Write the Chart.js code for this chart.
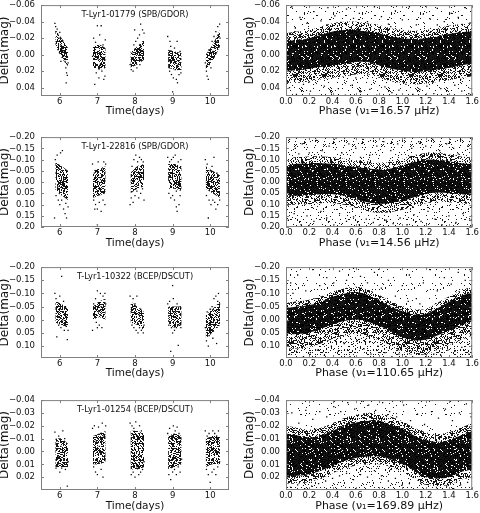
<!DOCTYPE html>
<html lang="en">
<head>
<meta charset="UTF-8">
<title>T-Lyr1 light curves</title>
<script src="https://cdn.jsdelivr.net/npm/chart.js"></script>
<style>
  html, body { margin: 0; padding: 0; background: #fff; overflow: hidden; }
  #wrap { position: relative; width: 480px; height: 513px; overflow: hidden; }
  .cell { position: absolute; width: 240px; height: 130px; }
</style>
</head>
<body>
<div id="wrap"></div>
<script>
// ---- axis ticks ----
const timeTicks = [6, 7, 8, 9, 10];
const phaseTicks = [0, 0.2, 0.4, 0.6, 0.8, 1.0, 1.2, 1.4, 1.6];
const yTicksA = [-0.06, -0.04, -0.02, 0.00, 0.02, 0.04];
const yTicksB = [-0.20, -0.15, -0.10, -0.05, 0.00, 0.05, 0.10, 0.15, 0.20];
const yTicksC = [-0.20, -0.15, -0.10, -0.05, 0.00, 0.05, 0.10];
const yTicksD = [-0.04, -0.03, -0.02, -0.01, 0.00, 0.01, 0.02];

// ---- light curves vs time: dense core of each night [day, top, bottom] + single points ----
const lc01779Core = [
  [[5.88, -0.030, -0.012], [6.05, -0.020, 0.004], [6.22, -0.008, 0.014]],
  [[6.88, -0.010, 0.016], [7.05, -0.012, 0.018], [7.22, -0.008, 0.016]],
  [[7.88, -0.004, 0.016], [8.06, -0.010, 0.012], [8.24, -0.018, 0.006]],
  [[8.88, -0.006, 0.016], [9.06, -0.004, 0.018], [9.24, -0.002, 0.020]],
  [[9.88, 0.000, 0.018], [10.06, -0.012, 0.008], [10.26, -0.030, -0.010]]
];
const lc01779Dots = [
  [5.87,-0.038],[5.89,-0.034],[5.9,-0.028],[5.93,-0.031],[5.95,-0.024],[5.98,-0.02],[6.0,-0.027],[6.02,-0.012],[6.05,-0.006],[6.08,-0.016],[6.1,0.002],[6.12,-0.004],[6.14,0.008],[6.16,0.016],[6.18,0.022],[6.2,0.025],[6.17,0.034],[6.22,0.01],[5.96,-0.006],[6.03,0.008],
  [6.87,0.002],[6.9,-0.02],[6.92,0.01],[6.95,-0.015],[6.97,0.022],[7.0,-0.035],[7.02,0.005],[7.04,0.028],[7.06,-0.024],[7.08,0.012],[7.1,-0.035],[7.12,0.02],[7.15,-0.012],[7.17,0.03],[7.19,0.004],[7.21,-0.018],[6.93,0.036],[7.2,0.026],
  [7.87,0.012],[7.9,0.018],[7.92,-0.002],[7.95,0.02],[7.97,-0.012],[8.0,0.008],[8.02,-0.016],[8.05,0.016],[8.07,-0.02],[8.1,0.004],[8.12,-0.024],[8.15,-0.037],[8.17,-0.01],[8.2,-0.03],[8.22,-0.004],[8.24,-0.026],[7.99,-0.03],[8.13,0.012],
  [8.87,-0.022],[8.9,0.008],[8.92,0.02],[8.95,-0.01],[8.97,0.024],[9.0,0.004],[9.02,0.028],[9.05,-0.008],[9.07,0.018],[9.1,0.03],[9.12,-0.016],[9.15,0.012],[9.17,0.024],[9.2,-0.004],[9.22,0.022],[9.0,0.045],[9.13,0.034],[8.93,-0.016],
  [9.87,0.01],[9.9,0.02],[9.92,0.026],[9.95,0.03],[9.97,-0.006],[10.0,0.006],[10.02,0.016],[10.05,-0.016],[10.07,-0.004],[10.1,-0.022],[10.12,-0.008],[10.15,-0.028],[10.18,-0.016],[10.2,-0.034],[10.22,-0.024],[10.25,-0.037],[10.26,-0.02],[9.93,0.012]
];

const lc22816Core = [
  [[5.88, -0.09, 0.04], [6.05, -0.07, 0.06], [6.22, -0.05, 0.08]],
  [[6.88, -0.05, 0.07], [7.05, -0.06, 0.06], [7.22, -0.07, 0.05]],
  [[7.88, -0.04, 0.05], [8.06, -0.07, 0.03], [8.24, -0.08, 0.02]],
  [[8.88, -0.08, 0.03], [9.06, -0.08, 0.03], [9.24, -0.07, 0.04]],
  [[9.88, -0.07, 0.03], [10.06, -0.05, 0.05], [10.26, -0.03, 0.07]]
];
const lc22816Dots = [
  [5.86,0.16],[5.88,-0.1],[5.9,0.06],[5.93,-0.12],[5.95,0.02],[5.98,-0.06],[6.0,0.1],[6.02,-0.13],[6.05,0.08],[6.07,-0.14],[6.1,0.12],[6.12,-0.02],[6.14,0.14],[6.16,0.095],[6.18,0.16],[6.2,0.02],[6.22,0.11],[5.96,0.08],
  [6.87,-0.08],[6.9,0.08],[6.92,-0.04],[6.95,0.1],[6.97,0.02],[7.0,0.12],[7.02,-0.09],[7.05,0.09],[7.07,-0.02],[7.1,0.13],[7.12,-0.06],[7.15,0.08],[7.17,-0.09],[7.2,0.1],[7.22,-0.08],[7.0,0.19],[6.93,0.12],
  [7.87,0.1],[7.9,0.07],[7.92,-0.07],[7.95,0.09],[7.97,-0.1],[8.0,0.06],[8.02,-0.12],[8.05,0.04],[8.07,-0.09],[8.1,0.07],[8.12,-0.11],[8.15,0.05],[8.17,-0.1],[8.2,0.03],[8.22,-0.09],[8.24,0.08],
  [8.87,-0.11],[8.9,0.05],[8.92,-0.09],[8.95,0.07],[8.97,-0.1],[9.0,0.06],[9.02,-0.11],[9.05,0.08],[9.07,-0.12],[9.1,0.04],[9.12,0.13],[9.15,-0.09],[9.17,0.1],[9.2,0.06],[9.22,-0.1],[9.1,0.11],
  [9.87,-0.1],[9.9,0.06],[9.92,-0.08],[9.95,0.16],[9.97,0.08],[10.0,-0.05],[10.02,0.1],[10.05,-0.07],[10.07,0.08],[10.1,-0.11],[10.12,0.09],[10.15,0.12],[10.18,-0.04],[10.2,0.1],[10.22,0.06],[10.25,0.08]
];

const lc10322Core = [
  [[5.88, -0.07, 0.01], [6.05, -0.06, 0.02], [6.22, -0.04, 0.03]],
  [[6.88, -0.05, 0.00], [7.05, -0.07, -0.01], [7.22, -0.08, 0.00]],
  [[7.88, -0.07, 0.01], [8.06, -0.05, 0.02], [8.24, -0.03, 0.04]],
  [[8.88, -0.05, 0.02], [9.06, -0.05, 0.03], [9.24, -0.05, 0.02]],
  [[9.88, -0.02, 0.07], [10.06, -0.04, 0.05], [10.26, -0.07, 0.02]]
];
const lc10322Dots = [
  [5.87,-0.1],[5.9,-0.08],[5.92,0.065],[5.95,-0.03],[5.97,0.02],[6.0,-0.09],[6.03,0.03],[6.05,-0.165],[6.08,0.0],[6.1,-0.07],[6.12,0.04],[6.15,-0.05],[6.17,0.025],[6.2,0.075],[6.22,0.04],[6.0,-0.04],
  [6.87,0.04],[6.9,-0.06],[6.92,-0.02],[6.95,-0.08],[6.97,0.01],[7.0,-0.11],[7.03,-0.03],[7.05,0.02],[7.08,-0.1],[7.1,-0.05],[7.12,0.03],[7.15,-0.09],[7.17,-0.02],[7.2,-0.1],[7.22,-0.06],[7.0,0.03],
  [7.87,-0.09],[7.9,-0.03],[7.92,0.02],[7.95,-0.08],[7.97,0.03],[8.0,-0.06],[8.03,0.04],[8.05,-0.09],[8.08,0.05],[8.1,-0.02],[8.12,0.03],[8.15,-0.04],[8.17,0.04],[8.2,0.0],[8.22,0.05],[8.24,0.02],
  [8.87,-0.06],[8.9,0.02],[8.92,-0.07],[8.95,0.12],[8.97,0.03],[9.0,-0.13],[9.02,-0.08],[9.05,0.04],[9.07,-0.03],[9.1,0.03],[9.12,-0.06],[9.15,0.097],[9.17,0.02],[9.2,-0.05],[9.22,0.03],[9.0,0.05],
  [9.87,0.03],[9.9,0.08],[9.92,-0.03],[9.95,0.1],[9.97,0.06],[10.0,-0.04],[10.02,0.05],[10.05,-0.05],[10.07,0.07],[10.1,-0.08],[10.12,0.02],[10.15,-0.09],[10.17,0.09],[10.2,-0.07],[10.22,-0.1],[10.25,-0.06]
];

const lc01254Core = [
  [[5.88, -0.010, 0.012], [6.05, -0.010, 0.012], [6.22, -0.006, 0.012]],
  [[6.88, -0.012, 0.010], [7.05, -0.014, 0.010], [7.22, -0.016, 0.008]],
  [[7.88, -0.016, 0.014], [8.06, -0.016, 0.014], [8.24, -0.014, 0.012]],
  [[8.88, -0.012, 0.014], [9.06, -0.014, 0.012], [9.24, -0.012, 0.010]],
  [[9.88, -0.010, 0.012], [10.06, -0.012, 0.010], [10.26, -0.012, 0.010]]
];
const lc01254Dots = [
  [5.87,-0.015],[5.9,0.013],[5.92,-0.008],[5.95,0.01],[5.97,-0.012],[6.0,0.016],[6.03,-0.004],[6.05,0.013],[6.08,-0.016],[6.1,0.006],[6.13,-0.01],[6.15,0.014],[6.17,-0.003],[6.2,0.027],[6.22,0.008],[5.98,0.004],
  [6.87,-0.018],[6.9,0.012],[6.92,-0.02],[6.95,0.016],[6.97,-0.008],[7.0,0.018],[7.03,-0.019],[7.05,0.008],[7.08,-0.014],[7.1,0.014],[7.13,-0.022],[7.15,0.02],[7.17,-0.012],[7.2,0.006],[7.22,-0.02],[7.05,-0.004],
  [7.87,-0.022],[7.9,0.018],[7.92,-0.02],[7.95,0.016],[7.97,-0.018],[8.0,0.02],[8.02,-0.023],[8.05,0.012],[8.07,-0.01],[8.1,0.018],[8.12,-0.02],[8.15,0.016],[8.17,-0.016],[8.2,0.014],[8.22,-0.012],[8.24,0.008],
  [8.87,-0.014],[8.9,0.018],[8.92,-0.018],[8.95,0.022],[8.97,-0.012],[9.0,0.016],[9.02,-0.02],[9.05,0.014],[9.07,-0.016],[9.1,0.018],[9.12,-0.019],[9.15,0.012],[9.17,-0.014],[9.2,0.016],[9.22,-0.01],[9.24,0.006],
  [9.87,-0.016],[9.9,0.014],[9.92,-0.012],[9.95,0.018],[9.97,-0.014],[10.0,0.024],[10.02,-0.01],[10.05,0.016],[10.07,-0.016],[10.1,0.014],[10.12,-0.014],[10.15,0.018],[10.17,-0.012],[10.2,0.012],[10.22,-0.016],[10.25,0.008]
];

// ---- phase-folded curves: dense core and lighter halo edges on a phase grid + sparse points ----
const phaseGrid = [0.0, 0.1, 0.2, 0.3, 0.4, 0.5, 0.6, 0.7, 0.8, 0.9, 1.0, 1.1, 1.2, 1.3, 1.4, 1.5, 1.6];

const ph1657CoreTop = [-0.016,-0.018,-0.020,-0.024,-0.028,-0.030,-0.030,-0.028,-0.026,-0.022,-0.020,-0.019,-0.020,-0.022,-0.025,-0.027,-0.028];
const ph1657CoreBot = [0.019,0.019,0.017,0.015,0.013,0.011,0.009,0.009,0.013,0.017,0.019,0.021,0.020,0.018,0.016,0.013,0.011];
const ph1657HaloTop = [-0.026,-0.028,-0.030,-0.034,-0.038,-0.040,-0.040,-0.038,-0.036,-0.032,-0.030,-0.029,-0.030,-0.032,-0.035,-0.037,-0.038];
const ph1657HaloBot = [0.034,0.034,0.032,0.030,0.028,0.026,0.024,0.024,0.028,0.032,0.034,0.036,0.035,0.033,0.031,0.028,0.026];
const ph1657Dots = [
  [0.05,-0.058],[0.12,-0.045],[0.18,-0.038],[0.24,-0.052],[0.3,-0.041],[0.36,-0.057],[0.42,-0.047],[0.47,-0.039],[0.52,-0.055],[0.58,-0.044],[0.63,-0.05],[0.7,-0.04],[0.76,-0.058],[0.82,-0.046],[0.88,-0.037],[0.94,-0.053],[1.0,-0.042],[1.06,-0.058],[1.12,-0.036],[1.18,-0.049],[1.24,-0.043],[1.3,-0.056],[1.36,-0.04],[1.42,-0.05],[1.48,-0.045],[1.54,-0.057],[1.58,-0.038],
  [0.03,0.04],[0.09,0.048],[0.15,0.036],[0.21,0.044],[0.27,0.05],[0.33,0.038],[0.39,0.046],[0.45,0.041],[0.51,0.049],[0.57,0.037],[0.64,0.045],[0.72,0.042],[0.78,0.049],[0.85,0.039],[0.91,0.046],[0.97,0.043],[1.03,0.036],[1.09,0.048],[1.15,0.042],[1.21,0.038],[1.27,0.047],[1.33,0.041],[1.39,0.049],[1.45,0.037],[1.51,0.044],[1.57,0.047],
  [0.08,-0.032],[0.2,0.033],[0.35,-0.036],[0.6,0.028],[0.9,-0.034],[1.1,0.034],[1.3,-0.036],[1.5,0.03]
];

const ph1456CoreTop = [-0.074,-0.081,-0.084,-0.084,-0.081,-0.074,-0.067,-0.060,-0.056,-0.060,-0.074,-0.089,-0.099,-0.099,-0.093,-0.084,-0.079];
const ph1456CoreBot = [0.061,0.061,0.059,0.054,0.054,0.061,0.076,0.090,0.097,0.093,0.083,0.069,0.054,0.047,0.050,0.054,0.059];
const ph1456HaloTop = [-0.104,-0.111,-0.114,-0.114,-0.111,-0.104,-0.097,-0.090,-0.086,-0.090,-0.104,-0.119,-0.129,-0.129,-0.123,-0.114,-0.109];
const ph1456HaloBot = [0.101,0.101,0.099,0.094,0.094,0.101,0.116,0.130,0.137,0.133,0.123,0.109,0.094,0.087,0.090,0.094,0.099];
const ph1456Dots = [
  [0.03,-0.19],[0.08,-0.15],[0.14,-0.17],[0.2,-0.13],[0.26,-0.185],[0.31,-0.14],[0.37,-0.16],[0.43,-0.195],[0.48,-0.13],[0.54,-0.17],[0.6,-0.15],[0.66,-0.19],[0.72,-0.12],[0.78,-0.16],[0.84,-0.18],[0.9,-0.14],[0.96,-0.17],[1.02,-0.195],[1.08,-0.15],[1.14,-0.18],[1.2,-0.16],[1.26,-0.19],[1.32,-0.14],[1.38,-0.17],[1.44,-0.15],[1.5,-0.19],[1.56,-0.16],[0.11,-0.125],[0.64,-0.11],[1.48,-0.125],
  [0.02,0.17],[0.07,0.14],[0.13,0.19],[0.18,0.15],[0.24,0.175],[0.3,0.13],[0.35,0.16],[0.41,0.19],[0.46,0.14],[0.52,0.175],[0.58,0.155],[0.63,0.19],[0.69,0.165],[0.75,0.18],[0.8,0.195],[0.86,0.17],[0.92,0.185],[0.98,0.16],[1.04,0.19],[1.1,0.145],[1.16,0.175],[1.22,0.13],[1.28,0.165],[1.34,0.19],[1.4,0.15],[1.46,0.18],[1.52,0.14],[1.58,0.17]
];

const ph11065CoreTop = [-0.044,-0.050,-0.056,-0.068,-0.087,-0.099,-0.105,-0.095,-0.074,-0.050,-0.032,-0.020,-0.022,-0.044,-0.068,-0.090,-0.105];
const ph11065CoreBot = [0.054,0.054,0.048,0.035,0.017,0.005,-0.001,0.007,0.023,0.044,0.066,0.078,0.076,0.060,0.041,0.023,0.005];
const ph11065HaloTop = [-0.064,-0.070,-0.076,-0.088,-0.107,-0.119,-0.125,-0.115,-0.094,-0.070,-0.052,-0.040,-0.042,-0.064,-0.088,-0.110,-0.125];
const ph11065HaloBot = [0.109,0.109,0.103,0.090,0.072,0.060,0.054,0.062,0.078,0.099,0.121,0.133,0.131,0.115,0.096,0.078,0.060];
const ph11065Dots = [
  [0.04,-0.14],[0.1,-0.17],[0.17,-0.11],[0.23,-0.19],[0.29,-0.13],[0.35,-0.16],[0.41,-0.14],[0.46,-0.185],[0.52,-0.15],[0.58,-0.195],[0.64,-0.165],[0.7,-0.14],[0.76,-0.18],[0.82,-0.12],[0.88,-0.15],[0.94,-0.09],[1.0,-0.13],[1.06,-0.17],[1.12,-0.08],[1.18,-0.14],[1.24,-0.19],[1.3,-0.11],[1.36,-0.16],[1.42,-0.135],[1.48,-0.18],[1.54,-0.15],[1.58,-0.19],[0.06,-0.1],[1.15,-0.06],[1.05,-0.07],
  [0.03,0.13],[0.09,0.12],[0.15,0.14],[0.21,0.125],[0.27,0.115],[0.33,0.135],[0.39,0.1],[0.45,0.12],[0.5,0.09],[0.55,0.14],[0.61,0.08],[0.67,0.11],[0.73,0.13],[0.79,0.1],[0.85,0.125],[0.91,0.14],[0.97,0.13],[1.03,0.14],[1.09,0.142],[1.2,0.14],[1.27,0.13],[1.33,0.135],[1.39,0.115],[1.45,0.12],[1.51,0.105],[1.57,0.13]
];

const ph16989CoreTop = [-0.014,-0.0125,-0.011,-0.0125,-0.016,-0.020,-0.0225,-0.024,-0.024,-0.021,-0.0175,-0.0125,-0.009,-0.0075,-0.009,-0.0125,-0.016];
const ph16989CoreBot = [0.019,0.019,0.0175,0.015,0.011,0.0075,0.005,0.004,0.004,0.006,0.010,0.015,0.020,0.021,0.020,0.016,0.014];
const ph16989HaloTop = [-0.020,-0.0185,-0.017,-0.0185,-0.022,-0.026,-0.0285,-0.030,-0.030,-0.027,-0.0235,-0.0185,-0.015,-0.0135,-0.015,-0.0185,-0.022];
const ph16989HaloBot = [0.025,0.025,0.0235,0.021,0.017,0.0135,0.011,0.010,0.010,0.012,0.016,0.021,0.026,0.027,0.026,0.022,0.020];
const ph16989Dots = [
  [0.05,-0.03],[0.11,-0.022],[0.17,-0.032],[0.23,-0.025],[0.29,-0.031],[0.35,-0.027],[0.41,-0.035],[0.47,-0.031],[0.53,-0.038],[0.59,-0.033],[0.65,-0.039],[0.71,-0.036],[0.77,-0.032],[0.83,-0.038],[0.89,-0.031],[0.95,-0.027],[1.01,-0.036],[1.07,-0.024],[1.13,-0.029],[1.19,-0.021],[1.25,-0.031],[1.31,-0.026],[1.37,-0.033],[1.43,-0.024],[1.49,-0.03],[1.55,-0.037],[1.59,-0.027],
  [0.04,0.028],[0.1,0.026],[0.16,0.029],[0.22,0.027],[0.28,0.025],[0.34,0.023],[0.4,0.021],[0.46,0.019],[0.52,0.017],[0.58,0.022],[0.64,0.018],[0.7,0.02],[0.76,0.015],[0.82,0.019],[0.88,0.023],[0.94,0.021],[1.0,0.026],[1.06,0.025],[1.3,0.029],[1.38,0.027],[1.44,0.029],[1.5,0.026],[1.56,0.024]
];

// ---- panel layout ----
const rowTops = [2, 134, 264, 397];
const rowHeights = [94, 93, 94, 93];

const panels = [
  { row: 0, col: 0, title: 'T-Lyr1-01779 (SPB/GDOR)', ymin: -0.06, ymax: 0.05, yticks: yTicksA, core: lc01779Core, dots: lc01779Dots },
  { row: 0, col: 1, freq: '16.57', ymin: -0.06, ymax: 0.05, yticks: yTicksA, sparse: [0.035, 0.07],
    band: [ph1657CoreTop, ph1657CoreBot, ph1657HaloTop, ph1657HaloBot], dots: ph1657Dots },
  { row: 1, col: 0, title: 'T-Lyr1-22816 (SPB/GDOR)', ymin: -0.2, ymax: 0.2, yticks: yTicksB, core: lc22816Core, dots: lc22816Dots },
  { row: 1, col: 1, freq: '14.56', ymin: -0.2, ymax: 0.2, yticks: yTicksB, sparse: [0.06, 0.08],
    band: [ph1456CoreTop, ph1456CoreBot, ph1456HaloTop, ph1456HaloBot], dots: ph1456Dots },
  { row: 2, col: 0, title: 'T-Lyr1-10322 (BCEP/DSCUT)', ymin: -0.2, ymax: 0.145, yticks: yTicksC, core: lc10322Core, dots: lc10322Dots },
  { row: 2, col: 1, freq: '110.65', ymin: -0.2, ymax: 0.145, yticks: yTicksC, sparse: [0.03, 0.15],
    band: [ph11065CoreTop, ph11065CoreBot, ph11065HaloTop, ph11065HaloBot], dots: ph11065Dots },
  { row: 3, col: 0, title: 'T-Lyr1-01254 (BCEP/DSCUT)', ymin: -0.04, ymax: 0.03, yticks: yTicksD, core: lc01254Core, dots: lc01254Dots },
  { row: 3, col: 1, freq: '169.89', ymin: -0.04, ymax: 0.03, yticks: yTicksD, sparse: [0.025, 0.06],
    band: [ph16989CoreTop, ph16989CoreBot, ph16989HaloTop, ph16989HaloBot], dots: ph16989Dots }
];

Chart.defaults.font.family = '"DejaVu Sans", sans-serif';
Chart.defaults.color = '#111';

// speckled fill so the dense clouds read as many tiny points
function speckle(density, seed) {
  const n = 29;
  const c = document.createElement('canvas');
  c.width = n; c.height = n;
  const g = c.getContext('2d');
  const img = g.createImageData(n, n);
  for (let j = 0; j < n; j++) {
    for (let i = 0; i < n; i++) {
      let h = (i * 374761393 + j * 668265263 + seed * 97531) >>> 0;
      h = Math.imul(h ^ (h >>> 13), 1274126177) >>> 0;
      h = (h ^ (h >>> 16)) >>> 0;
      if ((h % 1000) / 1000 < density) img.data[(j * n + i) * 4 + 3] = 235;
    }
  }
  g.putImageData(img, 0, 0);
  return g.createPattern(c, 'repeat');
}

// frame, inward tick marks and the star name inside the axes
const framePlugin = {
  id: 'frame',
  afterDatasetsDraw(chart, args, opts) {
    const { ctx, chartArea: a, scales: { x, y } } = chart;
    ctx.save();
    ctx.strokeStyle = '#808080';
    ctx.lineWidth = 1;
    ctx.strokeRect(a.left + 0.5, a.top + 0.5, a.width - 1, a.height - 1);
    ctx.beginPath();
    x.ticks.forEach(t => {
      const px = Math.round(x.getPixelForValue(t.value)) + 0.5;
      ctx.moveTo(px, a.bottom); ctx.lineTo(px, a.bottom - 3);
      ctx.moveTo(px, a.top); ctx.lineTo(px, a.top + 3);
    });
    y.ticks.forEach(t => {
      const py = Math.round(y.getPixelForValue(t.value)) + 0.5;
      ctx.moveTo(a.left, py); ctx.lineTo(a.left + 3, py);
      ctx.moveTo(a.right, py); ctx.lineTo(a.right - 3, py);
    });
    ctx.stroke();
    if (opts.title) {
      ctx.fillStyle = '#111';
      ctx.font = '8.3px "DejaVu Sans"';
      ctx.textAlign = 'center';
      ctx.textBaseline = 'middle';
      ctx.fillText(opts.title, (a.left + a.right) / 2, a.top + 10);
    }
    ctx.restore();
  }
};

function fmtY(v) {
  const s = Math.abs(v).toFixed(2);
  return (v < -1e-9 ? '\u2212' : '') + s;
}

const clear = 'rgba(0,0,0,0)';

function bandSets(xs, tops, bots, fillStyle, order, tension) {
  return [
    { data: xs.map((x, i) => ({ x: x, y: tops[i] })), fill: '+1', backgroundColor: fillStyle,
      borderColor: clear, pointRadius: 0, tension: tension, order: order },
    { data: xs.map((x, i) => ({ x: x, y: bots[i] })), fill: false,
      borderColor: clear, pointRadius: 0, tension: tension, order: order }
  ];
}

function edgeSet(xs, ys, toValue, fillStyle, order, tension) {
  return { data: xs.map((x, i) => ({ x: x, y: ys[i] })), fill: { value: toValue }, backgroundColor: fillStyle,
    borderColor: clear, pointRadius: 0, tension: tension, order: order };
}

const wrap = document.getElementById('wrap');

panels.forEach((p, k) => {
  const isTime = p.col === 0;
  const plotTop = rowTops[p.row];
  const plotH = rowHeights[p.row];
  const padTop = 8;
  const cellH = 130;
  const yAxisW = isTime ? 41 : 46;
  const padRight = isTime ? 11 : 7;

  const div = document.createElement('div');
  div.className = 'cell';
  div.style.left = (isTime ? 0 : 240) + 'px';
  div.style.top = (plotTop - padTop) + 'px';
  const canvas = document.createElement('canvas');
  canvas.width = 240;
  canvas.height = cellH;
  div.appendChild(canvas);
  wrap.appendChild(div);

  let datasets = [];
  if (isTime) {
    const tex = speckle(0.55, k + 1);
    p.core.forEach(night => {
      datasets = datasets.concat(bandSets(night.map(r => r[0]), night.map(r => r[1]), night.map(r => r[2]), tex, 3, 0.3));
    });
  } else {
    datasets.push(edgeSet(phaseGrid, p.band[2], p.ymin, speckle(p.sparse[0], k + 11), 6, 0.35));
    datasets.push(edgeSet(phaseGrid, p.band[3], p.ymax, speckle(p.sparse[1], k + 21), 6, 0.35));
    datasets = datasets.concat(bandSets(phaseGrid, p.band[2], p.band[3], speckle(0.4, k + 31), 5, 0.35));
    datasets = datasets.concat(bandSets(phaseGrid, p.band[0], p.band[1], speckle(0.88, k + 41), 4, 0.35));
  }
  datasets.push({
    data: p.dots.map(d => ({ x: d[0], y: d[1] })), showLine: false,
    pointRadius: 0.9, pointStyle: 'rect', pointBackgroundColor: '#000', pointBorderWidth: 0, order: 1
  });

  const xTicks = isTime ? timeTicks : phaseTicks;
  const xTitle = isTime ? 'Time(days)' : 'Phase (\u03bd\u2081=' + p.freq + ' \u03bcHz)';

  new Chart(canvas, {
    type: 'line',
    data: { datasets: datasets },
    options: {
      responsive: false,
      animation: false,
      layout: { padding: { top: padTop, right: padRight, bottom: 0, left: 0 } },
      plugins: {
        legend: { display: false },
        tooltip: { enabled: false },
        frame: { title: p.title }
      },
      scales: {
        x: {
          type: 'linear',
          min: isTime ? 5.5 : 0,
          max: isTime ? 10.5 : 1.6,
          grid: { display: false, drawTicks: false },
          border: { display: false },
          afterBuildTicks: s => { s.ticks = xTicks.map(v => ({ value: v })); },
          afterFit: s => { s.height = cellH - padTop - plotH; },
          ticks: {
            padding: 1, maxRotation: 0, autoSkip: false, font: { size: 8.5 },
            callback: v => isTime ? String(v) : v.toFixed(1)
          },
          title: { display: true, text: xTitle, font: { size: isTime ? 10.5 : 11 }, padding: { top: 0, bottom: 6 } }
        },
        y: {
          type: 'linear',
          reverse: true,
          min: p.ymin,
          max: p.ymax,
          grid: { display: false, drawTicks: false },
          border: { display: false },
          afterBuildTicks: s => { s.ticks = p.yticks.map(v => ({ value: v })); },
          afterFit: s => { s.width = yAxisW; },
          ticks: { padding: 6, autoSkip: false, font: { size: 8.5 }, callback: v => fmtY(v) },
          title: { display: true, text: 'Delta(mag)', font: { size: 12 }, padding: { top: isTime ? -2 : 3, bottom: 0 } }
        }
      }
    },
    plugins: [framePlugin]
  });
});
</script>
</body>
</html>
